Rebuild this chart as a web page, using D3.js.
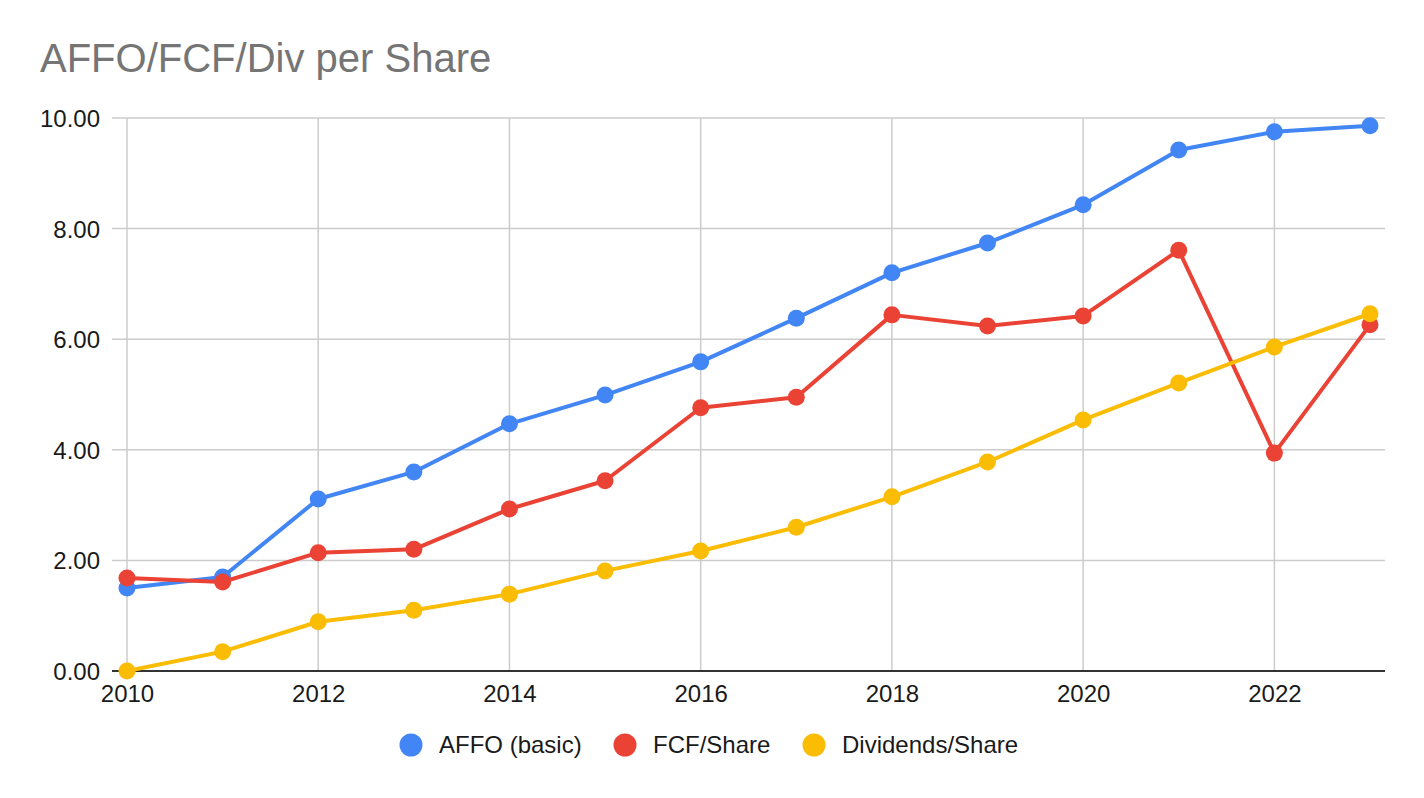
<!DOCTYPE html>
<html><head><meta charset="utf-8">
<script src="https://cdn.jsdelivr.net/npm/d3@7"></script>
<style>body{margin:0;background:#fff}svg{display:block}text{font-family:"Liberation Sans",Arial,sans-serif}</style>
</head><body>
<script>
const years = [2010,2011,2012,2013,2014,2015,2016,2017,2018,2019,2020,2021,2022,2023];
const affo = [1.50,1.70,3.11,3.60,4.47,4.99,5.59,6.38,7.20,7.74,8.43,9.42,9.75,9.86];
const fcf  = [1.68,1.61,2.14,2.20,2.93,3.44,4.76,4.95,6.44,6.24,6.42,7.61,3.94,6.26];
const divs = [0.00,0.35,0.89,1.10,1.39,1.81,2.17,2.60,3.15,3.78,4.54,5.21,5.86,6.46];
const seriesNames = ["AFFO (basic)","FCF/Share","Dividends/Share"];
const seriesColors = ["#4285F4","#EA4335","#FBBC04"];
const yTicks = [0,2,4,6,8,10];
const xTicks = [2010,2012,2014,2016,2018,2020,2022];
const title = "AFFO/FCF/Div per Share";

const W=1424,H=798;
const svg=d3.select("body").append("svg").attr("width",W).attr("height",H);
const x=d3.scaleLinear().domain([2010,2023]).range([127,1370]);
const y=d3.scaleLinear().domain([0,10]).range([671,118]);
const xRight=1385, xLeft=112;

svg.append("text").attr("x",40).attr("y",72).attr("fill","#757575")
  .attr("font-size",40).text(title);

const yAxis=d3.axisLeft(y).tickValues(yTicks).tickFormat(d3.format(".2f")).tickSize(0).tickPadding(12);
const gy=svg.append("g").attr("transform",`translate(${xLeft},0)`).call(yAxis);
gy.select(".domain").remove();
gy.selectAll("text").attr("font-size",24).attr("fill","#1a1a1a").attr("dy","0.35em");
gy.selectAll(".tick line").remove();
svg.append("g").selectAll("line").data(yTicks.filter(d=>d!==0)).join("line")
  .attr("x1",xLeft).attr("x2",xRight).attr("y1",d=>y(d)).attr("y2",d=>y(d))
  .attr("stroke","#cccccc").attr("stroke-width",1.5);

svg.append("g").selectAll("line").data(xTicks).join("line")
  .attr("x1",d=>x(d)).attr("x2",d=>x(d)).attr("y1",y(10)).attr("y2",y(0))
  .attr("stroke","#cccccc").attr("stroke-width",1.5);

const xAxis=d3.axisBottom(x).tickValues(xTicks).tickFormat(d3.format("d")).tickSize(0).tickPadding(14);
const gx=svg.append("g").attr("transform",`translate(0,${y(0)})`).call(xAxis);
gx.select(".domain").remove();
gx.selectAll("text").attr("font-size",24).attr("fill","#1a1a1a").attr("dy","0.71em");

svg.append("line").attr("x1",xLeft).attr("x2",xRight).attr("y1",y(0)).attr("y2",y(0))
  .attr("stroke","#333").attr("stroke-width",2);

const data=[affo,fcf,divs];
const line=d3.line().x((d,i)=>x(years[i])).y(d=>y(d));
data.forEach((vals,si)=>{
  const g=svg.append("g");
  g.append("path").datum(vals).attr("d",line).attr("fill","none")
    .attr("stroke",seriesColors[si]).attr("stroke-width",4).attr("stroke-linejoin","round");
  g.selectAll("circle").data(vals).join("circle")
    .attr("cx",(d,i)=>x(years[i])).attr("cy",d=>y(d)).attr("r",8.5).attr("fill",seriesColors[si]);
});

const legX=[411,625,814];
const lg=svg.append("g");
seriesNames.forEach((n,i)=>{
  lg.append("circle").attr("cx",legX[i]).attr("cy",745).attr("r",11.5).attr("fill",seriesColors[i]);
  lg.append("text").attr("x",legX[i]+28).attr("y",753).attr("font-size",24).attr("fill","#1a1a1a").text(n);
});
</script>
</body></html>
